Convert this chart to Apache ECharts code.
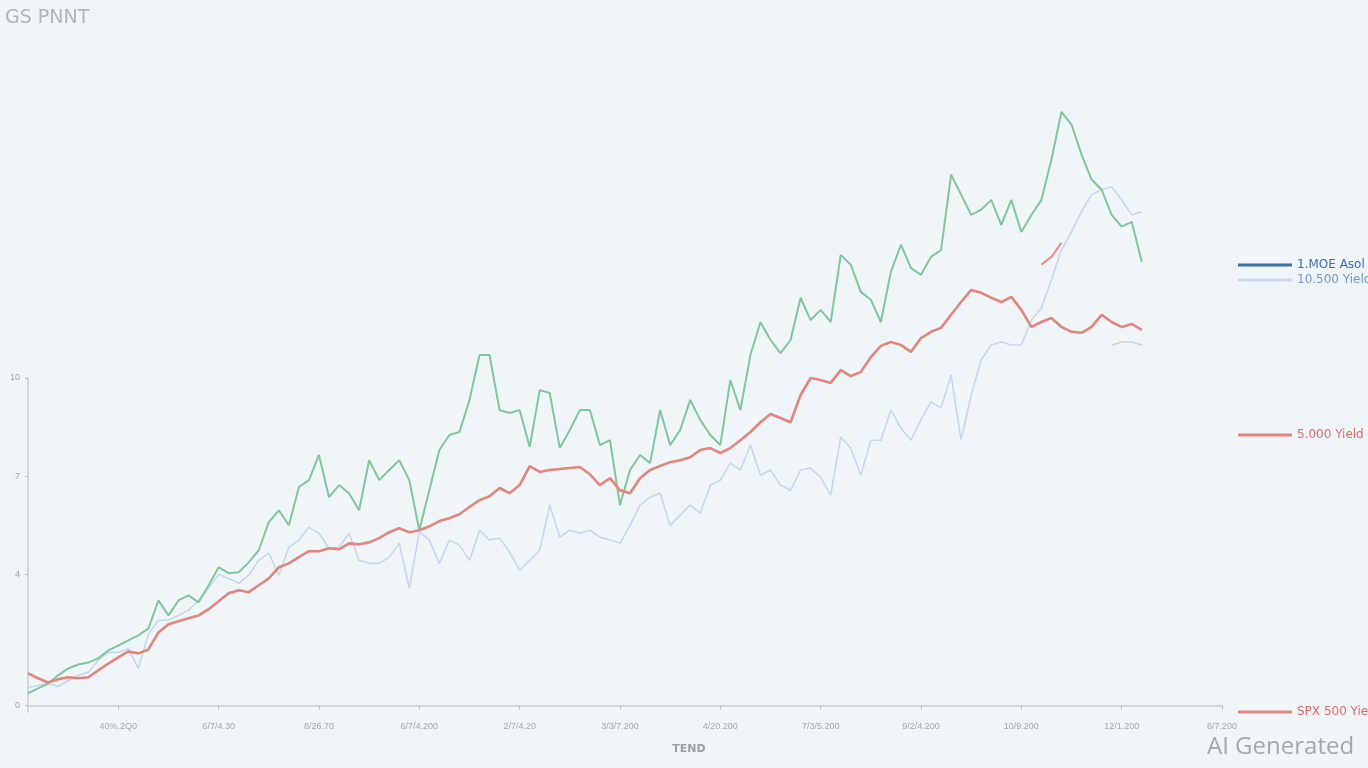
<!DOCTYPE html>
<html>
<head>
<meta charset="utf-8">
<style>
html,body{margin:0;padding:0;background:#f0f5f9;}
#chart{width:1368px;height:768px;}
</style>
<script src="https://cdn.jsdelivr.net/npm/echarts@6/dist/echarts.min.js"></script>
</head>
<body>
<div id="chart"></div>
<script>
// ---- data ----
const titleText = "GS PNNT";
const xAxisName = "TEND";
const xTickValues = [9, 19, 29, 39, 49, 59, 69, 79, 89, 99, 109, 119];
const xTickLabels = ["40%.2Q0", "6/7/4.30", "8/26.70", "6/7/4.200", "2/7/4.20", "3/3/7.200", "4/20.200", "7/3/5.200", "9/2/4.200", "10/9.200", "12/1.200", "6/7.200"];
const yTickValues = [0, 4, 7, 10];

const seriesNames = ["1.MOE Asol", "10.500 Yield", "5.000 Yield", "SPX 500 Yield", "GS Trend"];

// green line (no legend entry in the reference)
const greenValues = [0.37,0.52,0.67,0.92,1.13,1.25,1.31,1.44,1.68,1.83,1.99,2.14,2.35,3.21,2.75,3.21,3.36,3.15,3.67,4.22,
 4.04,4.07,4.37,4.74,5.60,5.96,5.50,6.67,6.88,7.65,6.36,6.73,6.48,5.96,7.49,6.88,7.19,7.49,6.88,5.35,
 6.57,7.80,8.26,8.35,9.33,10.70,10.70,9.02,8.93,9.02,7.89,9.63,9.54,7.86,8.41,9.02,9.02,7.95,8.10,6.12,
 7.19,7.65,7.40,9.02,7.95,8.41,9.33,8.72,8.26,7.95,9.94,9.02,10.70,11.71,11.16,10.76,11.16,12.45,11.77,12.08,
 11.71,13.76,13.46,12.63,12.39,11.71,13.24,14.07,13.36,13.15,13.70,13.91,16.21,15.60,14.98,15.14,15.44,14.68,15.44,14.46,
 14.98,15.44,16.67,18.13,17.74,16.82,16.06,15.75,14.98,14.62,14.77,13.55];

// light blue "10.500 Yield"
const lightBlueValues = [0.55,0.61,0.67,0.58,0.76,0.92,1.01,1.38,1.62,1.62,1.74,1.13,2.17,2.60,2.60,2.75,2.91,3.21,3.58,4.01,
 3.88,3.73,3.98,4.43,4.65,3.98,4.83,5.05,5.44,5.26,4.80,4.83,5.26,4.43,4.34,4.34,4.53,4.95,3.58,5.29,
 5.05,4.34,5.05,4.89,4.43,5.35,5.05,5.11,4.68,4.13,4.43,4.74,6.12,5.14,5.35,5.26,5.35,5.14,5.05,4.95,
 5.50,6.12,6.36,6.48,5.50,5.81,6.12,5.87,6.73,6.88,7.40,7.19,7.95,7.03,7.19,6.73,6.57,7.19,7.25,6.97,
 6.42,8.20,7.86,7.03,8.10,8.10,9.02,8.47,8.10,8.72,9.27,9.08,10.09,8.10,9.48,10.55,11.01,11.10,11.01,11.01,
 11.77,12.14,13.00,13.91,14.46,15.08,15.60,15.75,15.84,15.44,14.98,15.08];

// red "SPX 500 Yield"
const redValues = [0.98,0.83,0.70,0.80,0.86,0.83,0.86,1.07,1.28,1.47,1.65,1.59,1.71,2.23,2.48,2.57,2.66,2.75,2.94,3.18,
 3.43,3.52,3.46,3.67,3.88,4.22,4.34,4.53,4.71,4.71,4.80,4.77,4.95,4.92,4.98,5.11,5.29,5.41,5.29,5.35,
 5.47,5.63,5.72,5.84,6.06,6.27,6.39,6.64,6.48,6.73,7.31,7.13,7.19,7.22,7.25,7.28,7.06,6.73,6.94,6.57,
 6.48,6.94,7.19,7.31,7.43,7.49,7.58,7.80,7.86,7.71,7.86,8.10,8.35,8.65,8.90,8.78,8.65,9.48,10.00,9.94,
 9.85,10.24,10.06,10.18,10.64,10.98,11.10,11.01,10.80,11.22,11.41,11.53,11.93,12.32,12.69,12.60,12.45,12.32,12.48,12.08,
 11.56,11.71,11.83,11.56,11.41,11.38,11.56,11.93,11.71,11.56,11.65,11.47];

// short red fragment "5.000 Yield"
const redFragmentStart = 101;
const redFragmentValues = [13.46, 13.70, 14.13];

// faint dark-blue fragment "1.MOE Asol"
const darkFragmentStart = 108;
const darkFragmentValues = [11.01, 11.10, 11.10, 11.01];

// ---- build ----
const toPairs = (vals, start) => vals.map((v, i) => [start + i, v]);

const chart = echarts.init(document.getElementById('chart'), null, {renderer: 'canvas'});

const legendText = {fontSize: 12, fontFamily: '"DejaVu Sans", sans-serif'};
const legendBase = {left: 1238, orient: 'vertical', icon: 'rect', itemWidth: 54, itemHeight: 3,
  selectedMode: false, textStyle: legendText, padding: 0};

const option = {
  backgroundColor: '#f0f5f9',
  animation: false,
  title: [
    {text: titleText, left: 0, top: 4,
     textStyle: {fontSize: 19, fontWeight: 'normal', color: '#b0b5ba', fontFamily: '"DejaVu Sans", sans-serif'}},
    {text: xAxisName, left: 684, top: 739, textAlign: 'center',
     textStyle: {fontSize: 11, fontWeight: 'bold', color: '#9a9fa5', fontFamily: '"DejaVu Sans", sans-serif'}},
    {text: 'AI Generated', left: 1202, top: 730,
     textStyle: {fontSize: 24, fontWeight: 'normal', color: '#a4a8ad', fontFamily: '"Open Sans", "DejaVu Sans", sans-serif'}}
  ],
  grid: {left: 28, right: 146, top: 378, bottom: 56, containLabel: false},
  legend: [
    Object.assign({}, legendBase, {top: 259, itemGap: 3,
     data: [
       {name: seriesNames[0], itemStyle: {color: '#3d6fa8', opacity: 1}, textStyle: {color: '#3d6fb0'}},
       {name: seriesNames[1], itemStyle: {color: '#c9d7ef', opacity: 1}, textStyle: {color: '#6f9bd2'}}
     ]}),
    Object.assign({}, legendBase, {top: 429,
     data: [{name: seriesNames[2], itemStyle: {color: '#e3857c', opacity: 1}, textStyle: {color: '#e06a64'}}]}),
    Object.assign({}, legendBase, {top: 706,
     data: [{name: seriesNames[3], itemStyle: {color: '#e3857c', opacity: 1}, textStyle: {color: '#e06a64'}}]})
  ],
  xAxis: {
    type: 'value', min: 0, max: 119,
    axisLine: {show: true, lineStyle: {color: '#c6cbd0', width: 1.5}},
    axisTick: {show: true, customValues: xTickValues, length: 4, lineStyle: {color: '#b8bdc2'}},
    axisLabel: {customValues: xTickValues, color: '#a2a7ac', fontSize: 9, margin: 10,
      formatter: v => xTickLabels[xTickValues.indexOf(v)] || ''},
    splitLine: {show: false}
  },
  yAxis: {
    type: 'value', min: -0.2, max: 10,
    axisLine: {show: true, lineStyle: {color: '#c6cbd0', width: 1.5}},
    axisTick: {show: true, customValues: yTickValues, length: 3, lineStyle: {color: '#b8bdc2'}},
    axisLabel: {customValues: yTickValues, color: '#9ea3a8', fontSize: 9, margin: 8},
    splitLine: {show: false}
  },
  series: [
    {name: seriesNames[1], type: 'line', data: toPairs(lightBlueValues, 0), symbol: 'none', clip: false,
     lineStyle: {color: '#c7d5ee', width: 1.6}, itemStyle: {color: '#c7d5ee'}, z: 2},
    {name: seriesNames[4], type: 'line', data: toPairs(greenValues, 0), symbol: 'none', clip: false,
     lineStyle: {color: '#7fc69b', width: 2}, itemStyle: {color: '#7fc69b'}, z: 3},
    {name: seriesNames[3], type: 'line', data: toPairs(redValues, 0), symbol: 'none', clip: false,
     lineStyle: {color: '#e3857c', width: 2.6}, itemStyle: {color: '#e3857c'}, z: 4},
    {name: seriesNames[2], type: 'line', data: toPairs(redFragmentValues, redFragmentStart), symbol: 'none', clip: false,
     lineStyle: {color: '#e3857c', width: 2.2, opacity: 0.85}, itemStyle: {color: '#e3857c'}, z: 4},
    {name: seriesNames[0], type: 'line', data: toPairs(darkFragmentValues, darkFragmentStart), symbol: 'none', clip: false,
     lineStyle: {color: '#3d6fa8', width: 1.5, opacity: 0.25}, itemStyle: {color: '#3d6fa8'}, z: 1}
  ]
};
chart.setOption(option);
</script>
</body>
</html>
